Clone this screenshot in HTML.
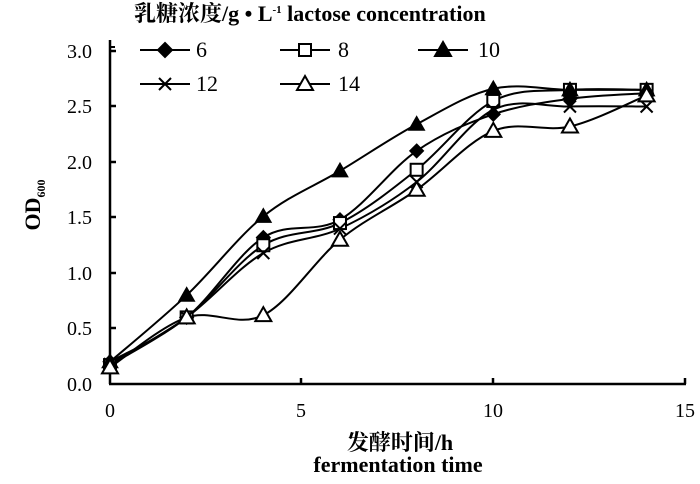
<!DOCTYPE html><html><head><meta charset="utf-8"><style>body{margin:0;background:#fff}svg text{font-family:"Liberation Serif","Noto Serif CJK SC",serif;fill:#000}</style></head><body>
<svg id="s" width="700" height="479" xmlns="http://www.w3.org/2000/svg">
<rect width="700" height="479" fill="#fff"/>
<g stroke="#000" stroke-width="2.5" fill="none">
<line x1="110" y1="40" x2="110" y2="384"/><line x1="109" y1="384" x2="686" y2="384"/>
<line x1="110" y1="51" x2="116" y2="51"/><line x1="110" y1="106" x2="116" y2="106"/><line x1="110" y1="162" x2="116" y2="162"/><line x1="110" y1="217" x2="116" y2="217"/><line x1="110" y1="273" x2="116" y2="273"/><line x1="110" y1="328" x2="116" y2="328"/>
<line x1="301" y1="384" x2="301" y2="378"/><line x1="493" y1="384" x2="493" y2="378"/><line x1="685" y1="384" x2="685" y2="378"/>
</g>
<g font-size="20" text-anchor="end"><text x="92" y="58">3.0</text><text x="92" y="113">2.5</text><text x="92" y="169">2.0</text><text x="92" y="224">1.5</text><text x="92" y="280">1.0</text><text x="92" y="335">0.5</text><text x="92" y="391">0.0</text></g>
<g font-size="20" text-anchor="middle"><text x="110" y="417">0</text><text x="301" y="417">5</text><text x="493" y="417">10</text><text x="685" y="417">15</text></g>
<text x="400" y="450" font-size="22" font-weight="bold" text-anchor="middle">发酵时间/h</text>
<text x="398" y="472" font-size="22" font-weight="bold" text-anchor="middle">fermentation time</text>
<text transform="translate(40,205) rotate(-90)" font-size="22" font-weight="bold" text-anchor="middle">OD<tspan font-size="12" dy="5">600</tspan></text>
<text x="134" y="21" font-size="22" font-weight="bold">乳糖浓度/g • L<tspan font-size="11" dy="-8">-1</tspan><tspan dy="8"> lactose concentration</tspan></text>
<path d="M115 47 H110 V110" stroke="#000" stroke-width="2" fill="none"/>
<g id="leg" stroke="#000" stroke-width="2"></g>
<g font-size="22"><text x="196" y="57">6</text><text x="338" y="57">8</text><text x="478" y="57">10</text><text x="196" y="91">12</text><text x="338" y="91">14</text></g>
<g id="plot"></g>
</svg>
<script>
var X=function(x){return 110+x*38.33},Y=function(y){return 384-y*111};
var xs=[0,2,4,6,8,10,12,14];
var S=[
{d:[.2,.6,1.32,1.48,2.1,2.43,2.57,2.62],m:'dia'},
{d:[.17,.6,1.25,1.45,1.93,2.55,2.65,2.65],m:'sq'},
{d:[.2,.8,1.51,1.92,2.34,2.66,2.65,2.65],m:'tri'},
{d:[.18,.6,1.18,1.4,1.82,2.47,2.5,2.5],m:'x'},
{d:[.15,.6,.62,1.3,1.75,2.28,2.32,2.6],m:'otri'}];
function mk(t,x,y){
 if(t=='dia')return '<path d="M'+x+' '+(y-7)+'L'+(x+7)+' '+y+'L'+x+' '+(y+7)+'L'+(x-7)+' '+y+'Z" fill="#000" stroke="#000"/>';
 if(t=='sq')return '<rect x="'+(x-6)+'" y="'+(y-6)+'" width="12" height="12" fill="#fff" stroke="#000" stroke-width="2"/>';
 if(t=='tri')return '<path d="M'+x+' '+(y-8)+'L'+(x+8)+' '+(y+6)+'L'+(x-8)+' '+(y+6)+'Z" fill="#000" stroke="#000"/>';
 if(t=='otri')return '<path d="M'+x+' '+(y-8)+'L'+(x+8)+' '+(y+6)+'L'+(x-8)+' '+(y+6)+'Z" fill="#fff" stroke="#000" stroke-width="2"/>';
 return '<path d="M'+(x-6)+' '+(y-6)+'L'+(x+6)+' '+(y+6)+'M'+(x+6)+' '+(y-6)+'L'+(x-6)+' '+(y+6)+'" stroke="#000" stroke-width="2"/>';
}
var h='';
S.forEach(function(s){var p=xs.map(function(x,i){return [X(x),Y(s.d[i])]});
 var d='M'+p[0][0]+' '+p[0][1];
 for(var i=0;i<p.length-1;i++){var a=p[Math.max(0,i-1)],b=p[i],c=p[i+1],e=p[Math.min(p.length-1,i+2)];
  d+='C'+(b[0]+(c[0]-a[0])/6)+' '+(b[1]+(c[1]-a[1])/6)+' '+(c[0]-(e[0]-b[0])/6)+' '+(c[1]-(e[1]-b[1])/6)+' '+c[0]+' '+c[1];}
 h+='<path d="'+d+'" fill="none" stroke="#000" stroke-width="2"/>';
});
S.forEach(function(s){xs.forEach(function(x,i){h+=mk(s.m,X(x),Y(s.d[i]))})});
document.getElementById('plot').innerHTML=h;
var L=[[140,50,'dia'],[280,50,'sq'],[418,50,'tri'],[140,84,'x'],[280,84,'otri']],g='';
L.forEach(function(l){g+='<line x1="'+l[0]+'" y1="'+l[1]+'" x2="'+(l[0]+50)+'" y2="'+l[1]+'" stroke="#000" stroke-width="2"/>'+mk(l[2],l[0]+25,l[1])});
document.getElementById('leg').innerHTML=g;
</script>
</body></html>
